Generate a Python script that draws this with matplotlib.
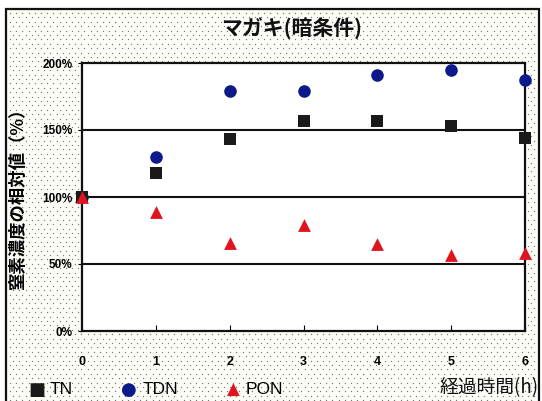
import matplotlib.pyplot as plt
import numpy as np
from matplotlib.patches import Rectangle

plt.rcParams['font.family'] = ['Noto Sans CJK JP', 'DejaVu Sans']

# ── Data ────────────────────────────────────────────────────────────
hours = [0, 1, 2, 3, 4, 5, 6]
tn = [100, 118, 143, 157, 157, 153, 144]
tdn = [100, 130, 179, 179, 191, 195, 187]
pon = [100, 89, 66, 79, 65, 57, 58]
y_ticks = [0, 50, 100, 150, 200]
y_tick_labels = ["0%", "50%", "100%", "150%", "200%"]

W, H = 542, 401
fig = plt.figure(figsize=(W / 100, H / 100), dpi=100)
fig.patch.set_facecolor("white")

# ── Dotted background panel (pixel coords) ──────────────────────────
bg = fig.add_axes([0, 0, 1, 1], zorder=0)
bg.set_xlim(0, W)
bg.set_ylim(H, 0)
bg.axis("off")
bg.add_patch(Rectangle((6, 9), 533, 400, facecolor="#fdfdf8",
                       edgecolor="#111111", linewidth=1.6))
xs, ys = [], []
for j, yy in enumerate(np.arange(13, H, 4.4)):
    off = 0 if j % 2 == 0 else 3.1
    for xx in np.arange(10 + off, 537, 6.2):
        xs.append(xx)
        ys.append(yy)
bg.scatter(xs, ys, s=0.9, color="#777777", linewidths=0)

# ── Main plot ──────────────────────────────────────────────────────
ax = fig.add_axes([82 / W, 1 - 331 / H, 443 / W, 268 / H], zorder=2)
ax.set_facecolor("white")

ax.scatter(hours, tdn, marker="o", s=82, color="#0d1a8a", zorder=3,
           clip_on=False, linewidths=0)
ax.scatter(hours, tn, marker="s", s=80, color="#1a1a1a", zorder=4,
           clip_on=False, linewidths=0)
ax.scatter(hours, pon, marker="^", s=85, color="#e0141e", zorder=5,
           clip_on=False, linewidths=0)

ax.set_xlim(0, 6)
ax.set_ylim(0, 200)
for v in [50, 100, 150]:
    ax.axhline(v, color="#111111", linewidth=1.5, zorder=1)
for s in ax.spines.values():
    s.set_color("#111111")
    s.set_linewidth(1.6)

ax.set_yticks(y_ticks)
ax.set_yticklabels(y_tick_labels, fontsize=8.5, fontweight="bold",
                   family=["Liberation Sans", "DejaVu Sans"])
ax.set_xticks(hours)
ax.set_xticklabels([str(h) for h in hours], fontsize=9, fontweight="bold",
                   family=["Liberation Sans", "DejaVu Sans"])
ax.tick_params(axis="y", length=3, width=0.8, pad=4, direction="out")
ax.tick_params(axis="x", length=4, width=0.8, pad=18, direction="in")

ax.set_ylabel("窒素濃度の相対値（%）", fontsize=12.5, fontweight="bold")
ax.yaxis.set_label_coords(-0.125, 0.51)

# ── Title and bottom texts ─────────────────────────────────────────
fig.text(292 / W, 1 - 29 / H, "マガキ(暗条件)", fontsize=15,
         fontweight="bold", ha="center", va="center", color="#111111")

fig.text(539 / W, 1 - 388 / H, "経過時間(h)", fontsize=13.5,
         ha="right", va="center", color="#111111")

leg_y = 1 - 390 / H
fig.text(37 / W, leg_y, "■", fontsize=13, ha="center", va="center",
         color="#1a1a1a", family=["DejaVu Sans"])
fig.text(50 / W, leg_y, "TN", fontsize=12.5, ha="left", va="center",
         family=["Liberation Sans", "DejaVu Sans"])
fig.text(129 / W, leg_y, "●", fontsize=13, ha="center", va="center",
         color="#0d1a8a", family=["DejaVu Sans"])
fig.text(143 / W, leg_y, "TDN", fontsize=12.5, ha="left", va="center",
         family=["Liberation Sans", "DejaVu Sans"])
fig.text(233 / W, leg_y, "▲", fontsize=12, ha="center", va="center",
         color="#e0141e", family=["DejaVu Sans"])
fig.text(246 / W, leg_y, "PON", fontsize=12.5, ha="left", va="center",
         family=["Liberation Sans", "DejaVu Sans"])

fig.savefig("out.png", dpi=100, facecolor="white")
